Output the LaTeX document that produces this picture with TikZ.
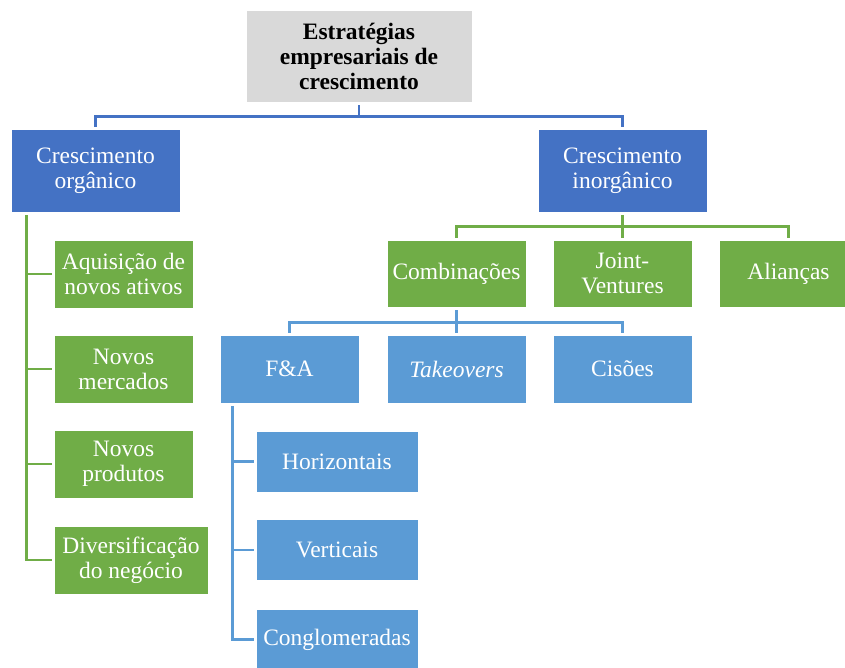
\documentclass[tikz,border=0pt]{standalone}
\usepackage{fontspec}
\setmainfont{Liberation Serif}
\usepackage{tikz}
\usetikzlibrary{scopes}
\definecolor{darkblue}{HTML}{4472C4}
\definecolor{leafgreen}{HTML}{70AD47}
\definecolor{lightblue}{HTML}{5B9BD5}
\definecolor{titlegray}{HTML}{D9D9D9}
\begin{document}
\begin{tikzpicture}
      [
      x=1pt, y=-1pt,
      every node/.style={font=\fontsize{23.5}{25}\selectfont, align=center, inner sep=0pt},
      box/.style={draw=white, line width=0.6pt, text=white, minimum height=#1},
      box/.default={68pt},
      titlebox/.style={fill=titlegray, draw=white, line width=0.6pt, minimum width=226pt, minimum height=92pt, font=\fontsize{23.5}{25}\selectfont\bfseries},
      orgbox/.style={box=83pt, fill=darkblue, minimum width=169pt},
      greenbox/.style={box, fill=leafgreen, minimum width=139pt},
      bluebox/.style={box, fill=lightblue, minimum width=139pt},
      link/.style={line width=2.6pt, shorten <=3pt, shorten >=2pt},
      ]
      \useasboundingbox (0,0) rectangle (845,667);
      % top level
      \node[titlebox] (top) at (359,56) {Estratégias\\empresariais de\\crescimento};
      \node[orgbox] (org) at (95.5,170.5) {Crescimento\\orgânico};
      \node[orgbox] (inorg) at (622.5,170.5) {Crescimento\\inorgânico};
      % organic branch
      \node[greenbox] (aquis) at (123.5,274) {Aquisição de\\novos ativos};
      \node[greenbox] (merc) at (123.5,369) {Novos\\mercados};
      \node[greenbox] (prod) at (123.5,464) {Novos\\produtos};
      \node[greenbox, minimum width=154pt] (divers) at (131,560) {Diversificação\\do negócio};
      % inorganic branch
      \node[greenbox, box=67pt] (comb) at (456.5,273.5) {Combinações};
      \node[greenbox, box=67pt] (joint) at (622.5,273.5) {Joint-\\Ventures};
      \node[greenbox, box=67pt] (alian) at (788.5,273.5) {Alianças};
      \node[bluebox] (fa) at (289.5,369) {F\&A};
      \node[bluebox] (takeov) at (456.5,369) {\textit{Takeovers}};
      \node[bluebox] (cisoes) at (622.5,369) {Cisões};
      \node[bluebox, box=61pt, minimum width=162pt] (horiz) at (337,461.5) {Horizontais};
      \node[bluebox, box=61pt, minimum width=162pt] (vert) at (337,550) {Verticais};
      \node[bluebox, box=61pt, minimum width=162pt] (congl) at (337,639.5) {Conglomeradas};
      {[link, draw=darkblue]
        \draw (top.south) -- ++(0,14) -| (org.north);
        \draw (top.south) -- ++(0,14) -| (inorg.north);
      }
      {[link, draw=leafgreen]
        \draw (inorg.south) -- ++(0,14) -| (comb.north);
        \draw (inorg.south) -- ++(0,14) -| (joint.north);
        \draw (inorg.south) -- ++(0,14) -| (alian.north);
        \foreach \leaf in {aquis,merc,prod,divers}
          \draw ([xshift=16pt]org.south west) |- (\leaf.west);
      }
      {[link, draw=lightblue]
        \draw (comb.south) -- ++(0,15) -| (fa.north);
        \draw (comb.south) -- ++(0,15) -| (takeov.north);
        \draw (comb.south) -- ++(0,15) -| (cisoes.north);
        \foreach \leaf in {horiz,vert,congl}
          \draw ([xshift=13pt]fa.south west) |- (\leaf.west);
      }
    \end{tikzpicture}
\end{document}
